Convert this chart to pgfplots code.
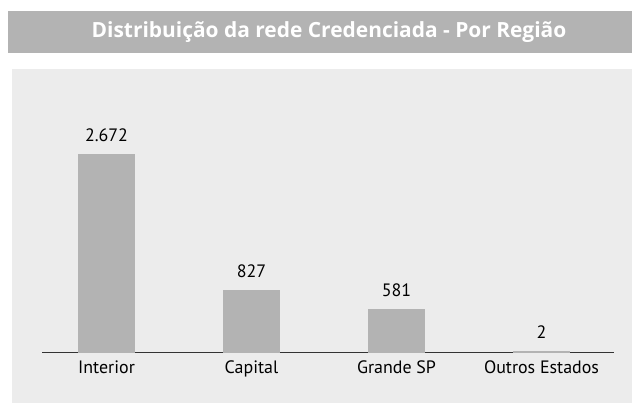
\documentclass[border=0pt]{standalone}
\usepackage{pgfplots}
\pgfplotsset{compat=1.18}
\usepackage{fontspec}
\setmainfont{PT Sans}
\newfontfamily\titlefont{Open Sans}
\definecolor{band}{HTML}{B3B3B3}
\definecolor{panel}{HTML}{ECECEC}
\definecolor{barc}{HTML}{B3B3B3}
\definecolor{axc}{HTML}{333333}
\begin{document}
\begin{tikzpicture}[x=1bp,y=1bp]
\fill[white] (0,0) rectangle (640,-410);
\fill[band] (8,-11) rectangle (640,-53);
\fill[panel] (12,-69) rectangle (640,-410);
\node[font=\titlefont\fontsize{21}{24}\selectfont\bfseries, text=white] at (329,-32) {Distribuição da rede Credenciada - Por Região};
\begin{axis}[
  at={(42bp,-352bp)}, anchor=south west,
  scale only axis, width=572bp, height=272bp,
  xmin=-0.445, xmax=3.5, ymin=0, ymax=3690,
  axis x line=bottom, hide y axis,
  axis line style={axc, line width=0.8pt, -},
  x axis line style={-},
  xtick={0,1,2,3}, xticklabels={Interior,Capital,Grande SP,Outros Estados},
  major tick length=0pt,
  xticklabel style={font=\fontsize{18}{20}\selectfont, text=black, yshift=-5bp},
  ybar, bar width=56bp,
  point meta=explicit symbolic,
  nodes near coords,
  every node near coord/.append style={font=\fontsize{18}{20}\selectfont, text=black, anchor=south, yshift=9bp},
  clip=false,
]
\addplot[fill=barc, draw=barc, line width=1.2pt] coordinates {(0,2672)[2.672] (1,827)[827] (2,581)[581] (3,2)[2]};
\end{axis}
\pgfresetboundingbox
\path[use as bounding box] (0,0) rectangle (632,-402);
\end{tikzpicture}
\end{document}
